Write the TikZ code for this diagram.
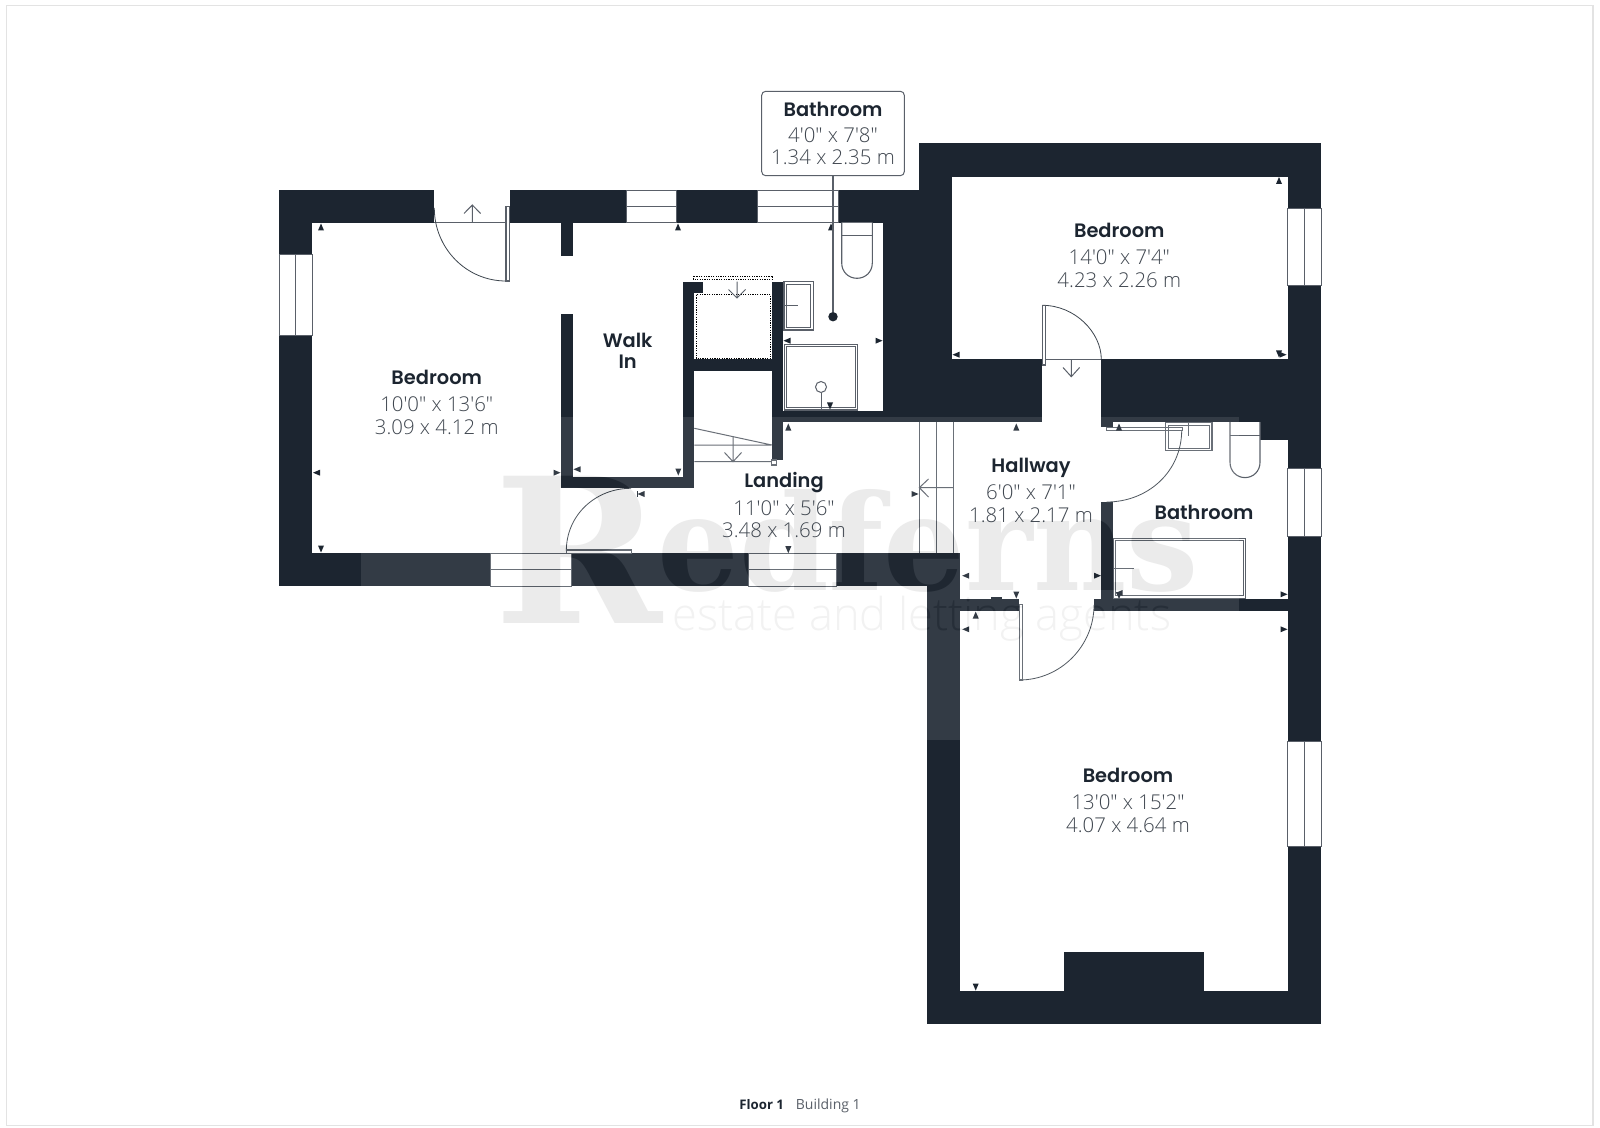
\documentclass[tikz,border=0pt]{standalone}
\usepackage{fontspec}
\newfontfamily\namefont{Poppins SemiBold}
\newfontfamily\dimfont{Open Sans Light}
\newfontfamily\capfont{Open Sans}
\newfontfamily\wmfont{DejaVu Serif}
\definecolor{wallc}{HTML}{1C2530}
\definecolor{linec}{HTML}{5A6069}
\definecolor{dimc}{HTML}{3F464F}
\definecolor{framec}{HTML}{E3E3E3}
\tikzset{
  wall/.style={fill=wallc},
  win/.style={fill=white,draw=linec,line width=0.45pt},
  fixture/.style={fill=white,draw=linec,line width=0.55pt},
  fline/.style={draw=linec,line width=0.5pt},
  doorarc/.style={draw=wallc!85!white,line width=0.4pt},
  mk/.style={fill=wallc},
  roomname/.style={font=\namefont\fontsize{9.7}{12}\selectfont,text=wallc,anchor=base,inner sep=0pt,yshift=0.35pt},
  roomdim/.style={font=\dimfont\fontsize{10.2}{12}\selectfont,text=dimc,anchor=base,inner sep=0pt},
}
\newcommand\winH[4]{\draw[win] (#1,#2) rectangle (#3,#4); \draw[win] (#1,{(#2+#4)/2}) -- (#3,{(#2+#4)/2});}
\newcommand\winV[4]{\draw[win] (#1,#2) rectangle (#3,#4); \draw[win] ({(#1+#3)/2},#2) -- ({(#1+#3)/2},#4);}
\newcommand\dbl[4]{\draw[fixture] (#1,#2) rectangle (#3,#4); \draw[fixture] ({#1+2.6},{#2+2.6}) rectangle ({#3-2.6},{#4-2.6});}
\newcommand\mU[2]{\fill[mk] (#1,{#2-3.5}) -- ++(3,7) -- ++(-6,0) -- cycle;}
\newcommand\mD[2]{\fill[mk] (#1,{#2+3.5}) -- ++(3,-7) -- ++(-6,0) -- cycle;}
\newcommand\mL[2]{\fill[mk] ({#1-3.5},#2) -- ++(7,3) -- ++(0,-6) -- cycle;}
\newcommand\mR[2]{\fill[mk] ({#1+3.5},#2) -- ++(-7,3) -- ++(0,-6) -- cycle;}
\newcommand\toilet[3]{\draw[fixture] (#1,#3) -- (#1,{#3+40.3}) .. controls (#1,{#3+49}) and ({#1+6.6},{#3+55.6}) .. ({(#1+#2)/2},{#3+55.6}) .. controls ({#2-6.6},{#3+55.6}) and (#2,{#3+49}) .. (#2,{#3+40.3}) -- (#2,#3);
  \draw[fline] (#1,{#3+13}) -- (#2,{#3+13});}
\begin{document}
\begin{tikzpicture}[x=0.5pt,y=-0.5pt]
\useasboundingbox (0,0) rectangle (1600,1128);
\fill[white] (0,0) rectangle (1600,1128);
\draw[framec,line width=0.75pt] (6.5,5.5) rectangle (1593,1125.5);
% walls
\fill[wall] (279,190) rectangle (434.3,222.7);
\fill[wall] (509.7,190) rectangle (918.7,222.7);
\fill[wall] (279,190) rectangle (312,586);
\fill[wall] (279,553.3) rectangle (960.3,586);
\fill[wall] (918.7,143.3) rectangle (1321,176.7);
\fill[wall] (918.7,143.3) rectangle (951.7,359.3);
\fill[wall] (883.3,190) rectangle (951.7,422.3);
\fill[wall] (951,359.3) rectangle (1042,422.3);
\fill[wall] (771.7,410.7) rectangle (1042,422.3);
\fill[wall] (1101.3,359.3) rectangle (1321,422.3);
\fill[wall] (1287.7,143.3) rectangle (1321,1024);
\fill[wall] (1101.3,422) rectangle (1112.7,426.7);
\fill[wall] (1260,422) rectangle (1287.7,440);
\fill[wall] (927.3,553.3) rectangle (960.3,1024);
\fill[wall] (927.3,990.7) rectangle (1321,1024);
\fill[wall] (1063.7,951.7) rectangle (1204.3,991);
\fill[wall] (960.3,599.3) rectangle (1019.3,610.7);
\fill[wall] (991,597) rectangle (1002.3,600);
\fill[wall] (1094,599.3) rectangle (1287.7,610.7);
\fill[wall] (1101.3,501.7) rectangle (1113.3,600);
\fill[wall] (561,222) rectangle (572.7,255.7);
\fill[wall] (561,314.3) rectangle (572.7,488.3);
\fill[wall] (561,476.7) rectangle (694.3,488.3);
\fill[wall] (683,281.7) rectangle (694.3,488.3);
\fill[wall] (683,281.7) rectangle (703,293.3);
\fill[wall] (771.7,281.7) rectangle (783.3,460);
\fill[wall] (694,359.3) rectangle (772,370.7);
% windows
\winV{279}{254.3}{312}{335}
\winH{626}{190}{676.7}{222.7}
\winH{757.3}{190}{838.7}{222.7}
\winH{490}{553.3}{571.7}{586}
\winH{748.3}{553.3}{836}{586}
\winV{1287.7}{208}{1321}{285.7}
\winV{1287.7}{468.3}{1321}{536.7}
\winV{1287.7}{741}{1321}{846.7}
% door: top of bedroom
\draw[fline] (434.3,222.7) -- (509.7,222.7);
\draw[doorarc] (434.3,208) .. controls (434.3,248) and (466,281) .. (506,281);
\draw[fixture] (506,206.7) rectangle (509.7,281);
\draw[fline] (472.3,222.7) -- (472.3,205) (464,213.5) -- (472.3,205) -- (480.6,213.5);
% door: upper bedroom
\draw[fline] (1042,359.3) -- (1101.3,359.3);
\draw[doorarc] (1042.3,305.3) .. controls (1075,305.3) and (1101.3,332.5) .. (1101.3,359.3);
\draw[fixture] (1042.3,305.3) rectangle (1045.7,365);
\draw[fline] (1071.3,359.3) -- (1071.3,376.7) (1063,367.5) -- (1071.3,376.7) -- (1079.6,367.5);
% door: lower bedroom
\draw[doorarc] (1094,605) .. controls (1094,646) and (1060.5,680) .. (1019.3,680);
\draw[fixture] (1019.3,604.5) rectangle (1022.7,680);
% door: landing
\draw[doorarc] (566.3,551) .. controls (566.3,515) and (595.5,488.3) .. (631,488.3);
\draw[fixture] (566.3,550) rectangle (631.7,553.3);
% landing / hallway threshold lines
\draw[fline] (919.3,422) -- (919.3,553.3) (936,422) -- (936,553.3) (953.3,422) -- (953.3,553.3);
\draw[fline] (953.3,487.7) -- (919.3,487.7) (928.5,479) -- (919.3,487.7) -- (928.5,497);
% stairs
\draw[fline] (694.3,428.3) -- (771.7,445) (694.3,445) -- (771.7,445) (694.3,461.7) -- (771.7,461.7);
\draw[fline] (733,436.7) -- (733,461.7) (724.5,452.5) -- (733,461.7) -- (741.5,452.5);
\draw[fixture] (771.7,460) rectangle (776.7,465);
% cupboard
\draw[black,line width=0.5pt,dash pattern=on 0.6pt off 0.6pt] (696,295) rectangle (770.7,358.3);
\draw[black,line width=0.45pt,dash pattern=on 0.6pt off 0.6pt] (693,276) rectangle (772.7,279);
\draw[fline] (737,281.7) -- (737,298) (728.5,289.5) -- (737,298) -- (745.5,289.5);
% bathroom fixtures
\toilet{841.7}{872.3}{222.7}
\dbl{784}{281.7}{813.3}{330}
\draw[fline] (784,305.7) -- (798.3,305.7);
\dbl{784.3}{344.3}{857.7}{410}
\draw[fline] (821,387) circle[radius=5.5];
\draw[fline] (821,393) -- (821,410);
\dbl{1165.7}{422.7}{1212}{450.7}
\draw[fline] (1188.7,422.7) -- (1188.7,436);
\toilet{1230}{1260}{422}
\dbl{1113.3}{538.3}{1245.7}{598.3}
\draw[fline] (1113.3,568.7) -- (1134,568.7);
% door: bathroom (over the basin)
\draw[doorarc] (1181.7,430) .. controls (1181.7,471.5) and (1148,502) .. (1106.7,502);
\draw[draw=linec,line width=0.55pt] (1106.7,427.3) rectangle (1182.3,430.7);
% markers
\mU{321}{227}\mU{678}{227}\mU{831}{227}\mU{788.3}{427}\mU{1279}{180.5}\mU{1016.3}{427}\mU{1119}{427}\mU{975.7}{615}
\mD{321}{549}\mD{678.3}{472}\mD{830}{406}\mD{788.3}{549.7}\mD{1016.3}{595}\mD{975.7}{987}\mD{1119}{595.5}\mD{1279}{354}
\mL{316.5}{472.7}\mL{577}{469.3}\mL{787}{340.7}\mL{956}{354.7}\mL{965.7}{575.7}\mL{965.7}{629.3}\mL{641}{494}\mL{1119}{593}
\mR{557}{472.7}\mR{879}{340.7}\mR{915}{494}\mR{1283}{354.7}\mR{1097.5}{575.7}\mR{1284}{629.3}\mR{1284}{594.3}
\fill[mk] (636.5,491) rectangle (637.3,497);
% watermark
\fill[white,opacity=0.1] (361,417) rectangle (1239,740);
\begin{scope}[blend mode=difference]
\node[anchor=base west,inner sep=0pt,text=black!92!white,font=\wmfont\bfseries\fontsize{101}{101}\selectfont] (wmR) at (494,623) {R};
\node[anchor=base west,inner sep=0pt,xscale=0.965,text=black!92!white,font=\wmfont\bfseries\fontsize{66.5}{66.5}\selectfont] (wmE) at (657,590) {edferns};
\node[anchor=base west,inner sep=0pt,text=black!95!white,font=\dimfont\fontsize{22.6}{24}\selectfont] (wmT) at (672,630) {estate and letting agents};
\end{scope}
% labels
\node[roomname] (n1) at (436.7,385.5) {Bedroom};
\node[roomdim] (a1) at (436.7,411.5) {10'0" x 13'6"};
\node[roomdim] (b1) at (436.7,434.8) {3.09 x 4.12 m};
\node[roomname] (n2) at (627.7,348.5) {Walk};
\node[roomname] (n2b) at (627.7,369.2) {In};
\node[roomname] (n4) at (1119.3,238.5) {Bedroom};
\node[roomdim] (a4) at (1119.3,264.2) {14'0" x 7'4"};
\node[roomdim] (b4) at (1119.3,287.5) {4.23 x 2.26 m};
\node[roomname] (n5) at (1031,473.5) {Hallway};
\node[roomdim] (a5) at (1031,499.8) {6'0" x 7'1"};
\node[roomdim] (b5) at (1031,522.8) {1.81 x 2.17 m};
\node[roomname] (n6) at (1204,519.8) {Bathroom};
\node[roomname] (n7) at (784,488.2) {Landing};
\node[roomdim] (a7) at (784,515.2) {11'0" x 5'6"};
\node[roomdim] (b7) at (784,537.5) {3.48 x 1.69 m};
\node[roomname] (n8) at (1128,783.5) {Bedroom};
\node[roomdim] (a8) at (1128,809.8) {13'0" x 15'2"};
\node[roomdim] (b8) at (1128,832.8) {4.07 x 4.64 m};
% callout with leader
\node[circle,fill=wallc,minimum size=4.7pt,inner sep=0pt] (pin) at (833,316.7) {};
\node[draw=linec,line width=0.5pt,fill=white,rounded corners=2pt,minimum width=71.3pt,minimum height=42.2pt,inner sep=0pt] (callout) at (833,133.5) {};
\draw[linec,line width=0.7pt] (callout.south) -- (pin);
\node[roomname] (n3) at (833,116.8) {Bathroom};
\node[roomdim] (a3) at (833,142.5) {4'0" x 7'8"};
\node[roomdim] (b3) at (833,164.8) {1.34 x 2.35 m};
% caption
\node[anchor=base west,inner sep=0pt,font=\capfont\bfseries\fontsize{6.6}{9}\selectfont,text=wallc] (fl) at (739,1109) {Floor 1};
\node[anchor=base west,inner sep=0pt,font=\capfont\fontsize{7}{9}\selectfont,text=linec] (bd) at (795.5,1109) {Building 1};
\end{tikzpicture}
\end{document}
